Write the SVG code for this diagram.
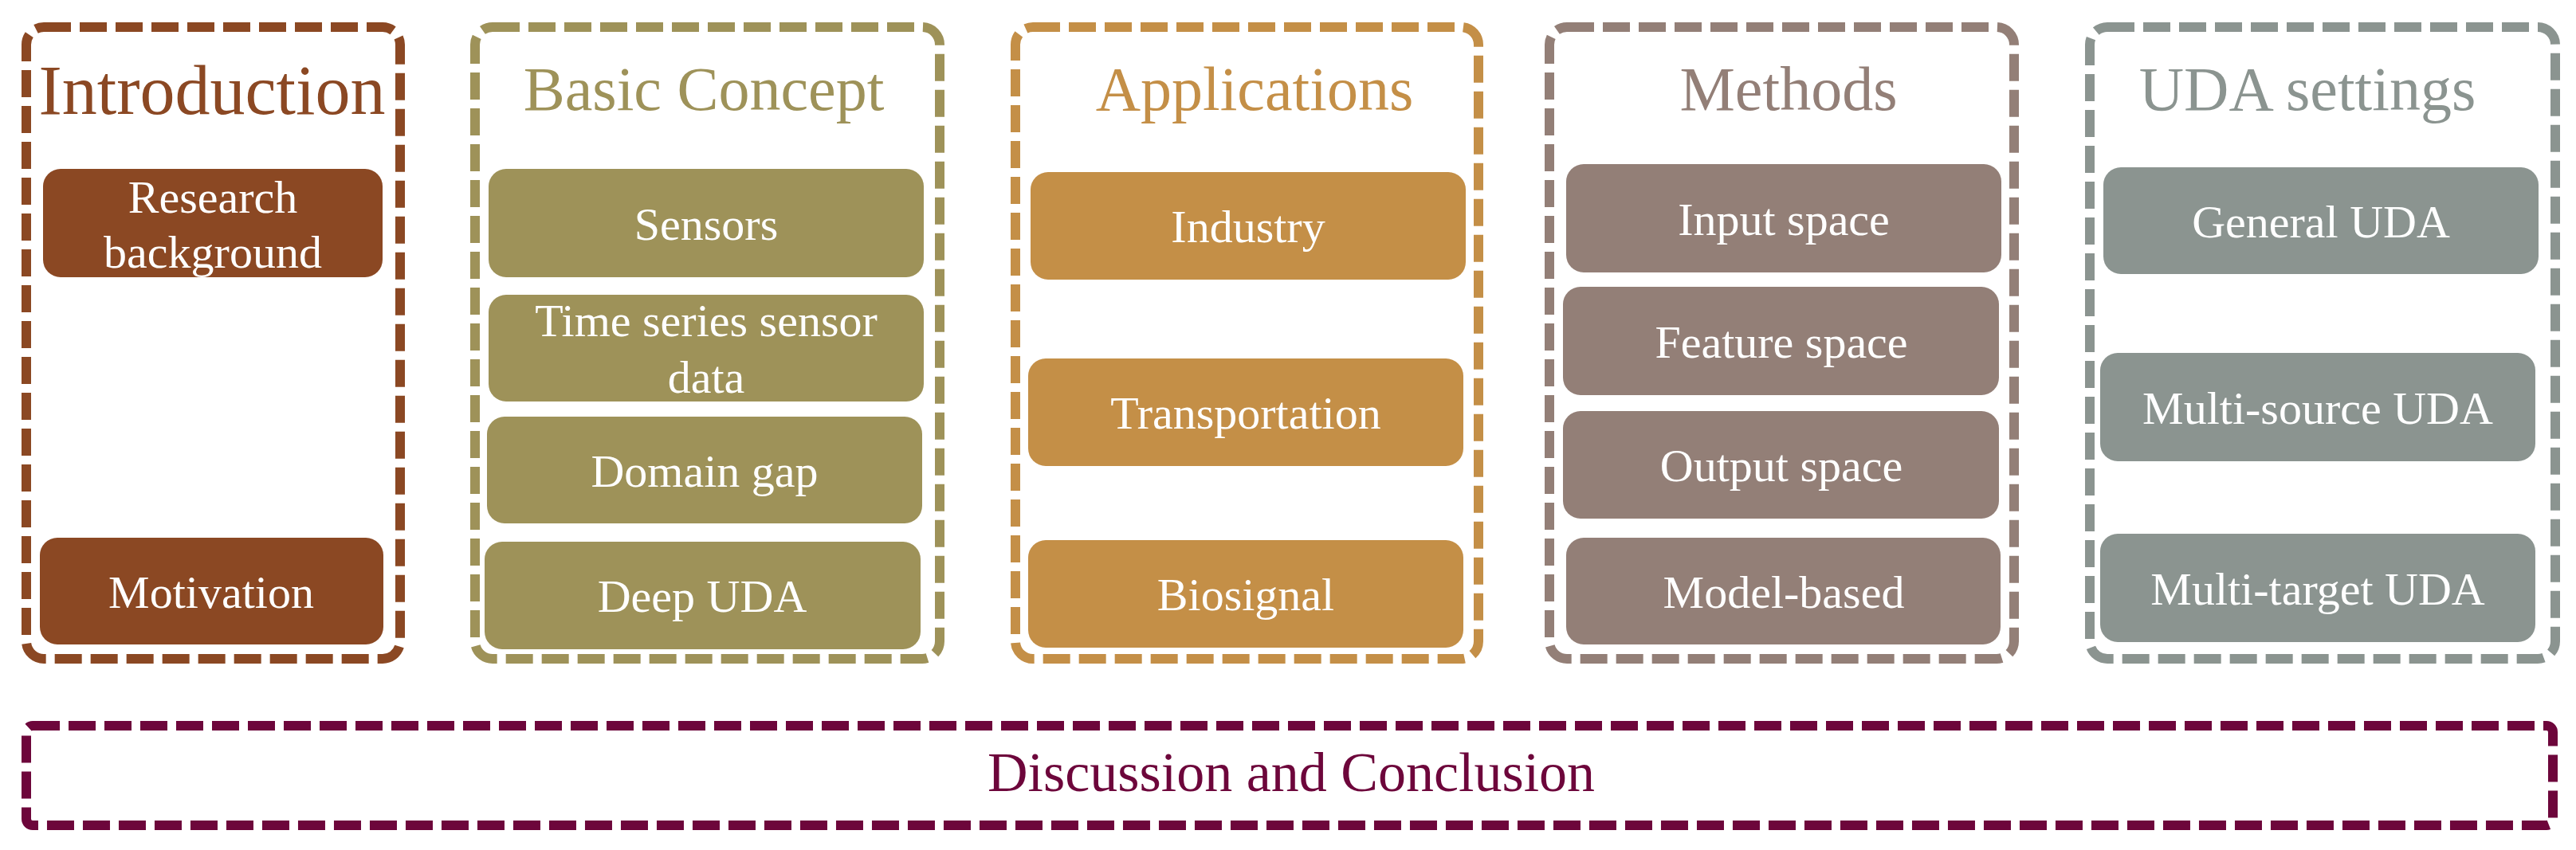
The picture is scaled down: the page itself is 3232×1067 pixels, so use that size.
<svg xmlns="http://www.w3.org/2000/svg" width="3232" height="1067" viewBox="0 0 3232 1067">
<style>
text{font-family:"Liberation Serif","Times New Roman",serif;text-anchor:middle}
.frame{fill:none;stroke-width:12;stroke-dasharray:34 11}
.title{font-size:78px}
.node text{font-size:58px;fill:#ffffff}
.c1{stroke:#8B4823}.f1{fill:#8B4823}
.c2{stroke:#9E9259}.f2{fill:#9E9259}
.c3{stroke:#C48F47}.f3{fill:#C48F47}
.c4{stroke:#937F77}.f4{fill:#937F77}
.c5{stroke:#8B9490}.f5{fill:#8B9490}
.c6{stroke:#6D063B}.f6{fill:#6D063B}
</style>
<rect width="3232" height="1067" fill="#ffffff"/>
<g id="col-introduction">
<rect class="frame c1" x="33" y="34" width="469" height="793" rx="22"/>
<text class="f1" x="266" y="143" style="font-size:88px">Introduction</text>
</g>
<g id="col-basic">
<rect class="frame c2" x="596" y="34" width="583" height="793" rx="22"/>
<text class="title f2" x="883" y="138">Basic Concept</text>
</g>
<g id="col-applications">
<rect class="frame c3" x="1274" y="34" width="581" height="793" rx="22"/>
<text class="title f3" x="1574" y="138">Applications</text>
</g>
<g id="col-methods">
<rect class="frame c4" x="1944" y="34" width="583" height="793" rx="22"/>
<text class="title f4" x="2244" y="138">Methods</text>
</g>
<g id="col-uda">
<rect class="frame c5" x="2622" y="34" width="584" height="793" rx="22"/>
<text class="title f5" x="2895" y="138">UDA settings</text>
</g>
<g id="n-research" class="node">
<rect class="f1" x="54" y="212" width="426" height="136" rx="22"/>
<text x="267" y="267">Research</text>
<text x="267" y="336">background</text>
</g>
<g id="n-motivation" class="node">
<rect class="f1" x="50" y="675" width="431" height="134" rx="22"/>
<text x="265" y="763">Motivation</text>
</g>
<g id="n-sensors" class="node">
<rect class="f2" x="613" y="212" width="546" height="136" rx="22"/>
<text x="886" y="301">Sensors</text>
</g>
<g id="n-timeseries" class="node">
<rect class="f2" x="613" y="370" width="546" height="134" rx="22"/>
<text x="886" y="422">Time series sensor</text>
<text x="886" y="493">data</text>
</g>
<g id="n-domaingap" class="node">
<rect class="f2" x="611" y="523" width="546" height="134" rx="22"/>
<text x="884" y="611">Domain gap</text>
</g>
<g id="n-deepuda" class="node">
<rect class="f2" x="608" y="680" width="547" height="135" rx="22"/>
<text x="881" y="768">Deep UDA</text>
</g>
<g id="n-industry" class="node">
<rect class="f3" x="1293" y="216" width="546" height="135" rx="22"/>
<text x="1566" y="304">Industry</text>
</g>
<g id="n-transportation" class="node">
<rect class="f3" x="1290" y="450" width="546" height="135" rx="22"/>
<text x="1563" y="538">Transportation</text>
</g>
<g id="n-biosignal" class="node">
<rect class="f3" x="1290" y="678" width="546" height="135" rx="22"/>
<text x="1563" y="766">Biosignal</text>
</g>
<g id="n-input" class="node">
<rect class="f4" x="1965" y="206" width="546" height="136" rx="22"/>
<text x="2238" y="295">Input space</text>
</g>
<g id="n-feature" class="node">
<rect class="f4" x="1961" y="360" width="547" height="136" rx="22"/>
<text x="2235" y="449">Feature space</text>
</g>
<g id="n-output" class="node">
<rect class="f4" x="1961" y="516" width="547" height="135" rx="22"/>
<text x="2235" y="604">Output space</text>
</g>
<g id="n-model" class="node">
<rect class="f4" x="1965" y="675" width="545" height="134" rx="22"/>
<text x="2238" y="763">Model-based</text>
</g>
<g id="n-general" class="node">
<rect class="f5" x="2639" y="210" width="546" height="134" rx="22"/>
<text x="2912" y="298">General UDA</text>
</g>
<g id="n-multisource" class="node">
<rect class="f5" x="2635" y="443" width="546" height="136" rx="22"/>
<text x="2908" y="532">Multi-source UDA</text>
</g>
<g id="n-multitarget" class="node">
<rect class="f5" x="2635" y="670" width="546" height="136" rx="22"/>
<text x="2908" y="759">Multi-target UDA</text>
</g>
<g id="n-discussion">
<rect class="frame c6" x="33" y="911" width="3170" height="125" rx="8"/>
<text class="f6" x="1620" y="993" style="font-size:70px">Discussion and Conclusion</text>
</g>
<g id="connectors"></g>
</svg>
